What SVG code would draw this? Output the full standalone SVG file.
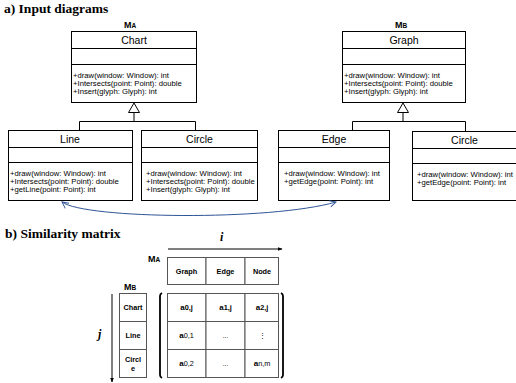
<svg xmlns="http://www.w3.org/2000/svg" width="516" height="383" viewBox="0 0 516 383">
<style>
.h{font-family:"Liberation Serif","Times New Roman",serif;font-weight:bold;font-size:13.5px;fill:#000}
.box{fill:#fff;stroke:#000;stroke-width:1}
.t{font-family:"Liberation Sans",Arial,sans-serif;font-size:10.5px;fill:#000;text-anchor:middle}
.m{font-family:"Liberation Sans",Arial,sans-serif;font-size:7.7px;fill:#000}
.ml{font-family:"Liberation Sans",Arial,sans-serif;font-weight:bold;font-size:9px;fill:#000}
.ml tspan{font-size:6.5px}
.c{fill:none;stroke:#000;stroke-width:1}
.cell{fill:#fff;stroke:#555;stroke-width:1}
.ct{font-family:"Liberation Sans",Arial,sans-serif;font-weight:bold;font-size:7.3px;fill:#000;text-anchor:middle}
.v{font-family:"Liberation Sans",Arial,sans-serif;font-size:6.5px;fill:#000;text-anchor:middle}
.ij{font-family:"Liberation Serif","Times New Roman",serif;font-weight:bold;font-style:italic;font-size:12px;fill:#000}
.par{fill:none;stroke:#000;stroke-width:1.8}
</style>
<defs>
<marker id="open" viewBox="0 0 10 10" refX="9" refY="5" markerWidth="8" markerHeight="8" markerUnits="userSpaceOnUse" orient="auto-start-reverse">
<path d="M1,1 L9,5 L1,9" fill="none" stroke="#2F5597" stroke-width="1.2"/>
</marker>
<marker id="fill" viewBox="0 0 10 10" refX="9" refY="5" markerWidth="5" markerHeight="5" markerUnits="userSpaceOnUse" orient="auto">
<path d="M0,1 L10,5 L0,9 Z" fill="#000"/>
</marker>
</defs>

<text class="h" x="4" y="13">a) Input diagrams</text>

<g id="labelMA"><text class="ml" x="124" y="28">M<tspan>A</tspan></text></g>
<g id="labelMB"><text class="ml" x="395" y="28">M<tspan>B</tspan></text></g>

<g id="chart">
<rect class="box" x="71.5" y="31.5" width="125" height="71"/>
<line class="c" x1="71.5" y1="48.5" x2="196.5" y2="48.5"/>
<line class="c" x1="71.5" y1="64.5" x2="196.5" y2="64.5"/>
<text class="t" x="134" y="44">Chart</text>
<text class="m" x="73" y="78">+draw(window: Window): int</text>
<text class="m" x="73" y="86">+Intersects(point: Point): double</text>
<text class="m" x="73" y="94">+Insert(glyph: Glyph): int</text>
</g>

<g id="line">
<rect class="box" x="8.5" y="130.5" width="124" height="70"/>
<line class="c" x1="8.5" y1="147.5" x2="132.5" y2="147.5"/>
<line class="c" x1="8.5" y1="162.5" x2="132.5" y2="162.5"/>
<text class="t" x="70" y="143">Line</text>
<text class="m" x="10" y="176">+draw(window: Window): int</text>
<text class="m" x="10" y="184">+Intersects(point: Point): double</text>
<text class="m" x="10" y="192">+getLine(point: Point): int</text>
</g>

<g id="circleA">
<rect class="box" x="141.5" y="130.5" width="116" height="70"/>
<line class="c" x1="141.5" y1="147.5" x2="257.5" y2="147.5"/>
<line class="c" x1="141.5" y1="162.5" x2="257.5" y2="162.5"/>
<text class="t" x="199.5" y="143">Circle</text>
<text class="m" x="146" y="176">+draw(window: Window): int</text>
<text class="m" x="146" y="184">+Intersects(point: Point): double</text>
<text class="m" x="146" y="192">+Insert(glyph: Glyph): int</text>
</g>

<g id="graph">
<rect class="box" x="342.5" y="31.5" width="123" height="71"/>
<line class="c" x1="342.5" y1="48.5" x2="465.5" y2="48.5"/>
<line class="c" x1="342.5" y1="64.5" x2="465.5" y2="64.5"/>
<text class="t" x="404" y="44">Graph</text>
<text class="m" x="344" y="78">+draw(window: Window): int</text>
<text class="m" x="344" y="86">+Intersects(point: Point): double</text>
<text class="m" x="344" y="94">+Insert(glyph: Glyph): int</text>
</g>

<g id="edge">
<rect class="box" x="278.5" y="130.5" width="111" height="70"/>
<line class="c" x1="278.5" y1="147.5" x2="389.5" y2="147.5"/>
<line class="c" x1="278.5" y1="162.5" x2="389.5" y2="162.5"/>
<text class="t" x="334" y="143">Edge</text>
<text class="m" x="284" y="176">+draw(window: Window): int</text>
<text class="m" x="284" y="184">+getEdge(point: Point): int</text>
</g>

<g id="circleB">
<rect class="box" x="412.5" y="131.5" width="110" height="69"/>
<line class="c" x1="412.5" y1="148.5" x2="522.5" y2="148.5"/>
<line class="c" x1="412.5" y1="163.5" x2="522.5" y2="163.5"/>
<text class="t" x="464.5" y="144">Circle</text>
<text class="m" x="417" y="177">+draw(window: Window): int</text>
<text class="m" x="417" y="185">+getEdge(point: Point): int</text>
</g>

<g id="connectors">
<path class="c" d="M134,112.5 V121.5 M79.5,130.5 V121.5 H195.5 V130.5"/>
<path d="M134,103 L128.5,112.5 L139.5,112.5 Z" fill="#fff" stroke="#000" stroke-width="1"/>
<path class="c" d="M403,112.5 V121.5 M352.5,130.5 V121.5 H465.5 V131.5"/>
<path d="M403,103 L397.5,112.5 L408.5,112.5 Z" fill="#fff" stroke="#000" stroke-width="1"/>
<path d="M62,202 C85,219 270,221 336,202" fill="none" stroke="#2F5597" stroke-width="1" marker-start="url(#open)" marker-end="url(#open)"/>
</g>

<text class="h" x="5" y="237.5">b) Similarity matrix</text>

<g id="axisI">
<text class="ij" x="220" y="241">i</text>
<line x1="168" y1="249" x2="282" y2="249" stroke="#000" stroke-width="1" marker-end="url(#fill)"/>
</g>
<g id="axisJ">
<text class="ij" x="98" y="338">j</text>
<line x1="112" y1="294" x2="112" y2="382" stroke="#000" stroke-width="1" marker-end="url(#fill)"/>
</g>

<g id="labelMA2"><text class="ml" x="148" y="262">M<tspan>A</tspan></text></g>
<g id="labelMB2"><text class="ml" x="124" y="290">M<tspan>B</tspan></text></g>

<g id="header">
<rect class="cell" x="167.5" y="257.5" width="38.5" height="27"/>
<rect class="cell" x="206" y="257.5" width="39" height="27"/>
<rect class="cell" x="245" y="257.5" width="33.5" height="27"/>
<text class="ct" x="186.5" y="274">Graph</text>
<text class="ct" x="225.5" y="274">Edge</text>
<text class="ct" x="262" y="274">Node</text>
</g>

<g id="rowsB">
<rect class="cell" x="119.5" y="293.5" width="27" height="28"/>
<rect class="cell" x="119.5" y="321.5" width="27" height="28"/>
<rect class="cell" x="119.5" y="349.5" width="27" height="28"/>
<text class="ct" x="133" y="310">Chart</text>
<text class="ct" x="133" y="338">Line</text>
<text class="ct" x="133" y="362">Circl</text>
<text class="ct" x="133" y="371">e</text>
</g>

<g id="matrix">
<rect class="cell" x="167.5" y="293.5" width="38.5" height="28"/>
<rect class="cell" x="206" y="293.5" width="39" height="28"/>
<rect class="cell" x="245" y="293.5" width="33.5" height="28"/>
<rect class="cell" x="167.5" y="321.5" width="38.5" height="28"/>
<rect class="cell" x="206" y="321.5" width="39" height="28"/>
<rect class="cell" x="245" y="321.5" width="33.5" height="28"/>
<rect class="cell" x="167.5" y="349.5" width="38.5" height="28"/>
<rect class="cell" x="206" y="349.5" width="39" height="28"/>
<rect class="cell" x="245" y="349.5" width="33.5" height="28"/>
<text class="ct" x="186.5" y="310"><tspan font-size="8px">a</tspan>0,j</text>
<text class="ct" x="225.5" y="310"><tspan font-size="8px">a</tspan>1,j</text>
<text class="ct" x="262" y="310"><tspan font-size="8px">a</tspan>2,j</text>
<text class="ct" x="186.5" y="338"><tspan font-size="8px">a</tspan><tspan font-weight="normal">0,1</tspan></text>
<text class="v" x="225.5" y="338">...</text>
<text class="v" x="262" y="338">⋮</text>
<text class="ct" x="186.5" y="366"><tspan font-size="8px">a</tspan><tspan font-weight="normal">0,2</tspan></text>
<text class="v" x="225.5" y="366">...</text>
<text class="ct" x="262" y="366"><tspan font-size="8px">a</tspan><tspan font-weight="normal">n,m</tspan></text>
<path class="par" d="M162,293 Q160,294 160,296 L160,375 Q160,377 162,378"/>
<path class="par" d="M281,293 Q283,294 283,296 L283,375 Q283,377 281,378"/>
</g>
</svg>
